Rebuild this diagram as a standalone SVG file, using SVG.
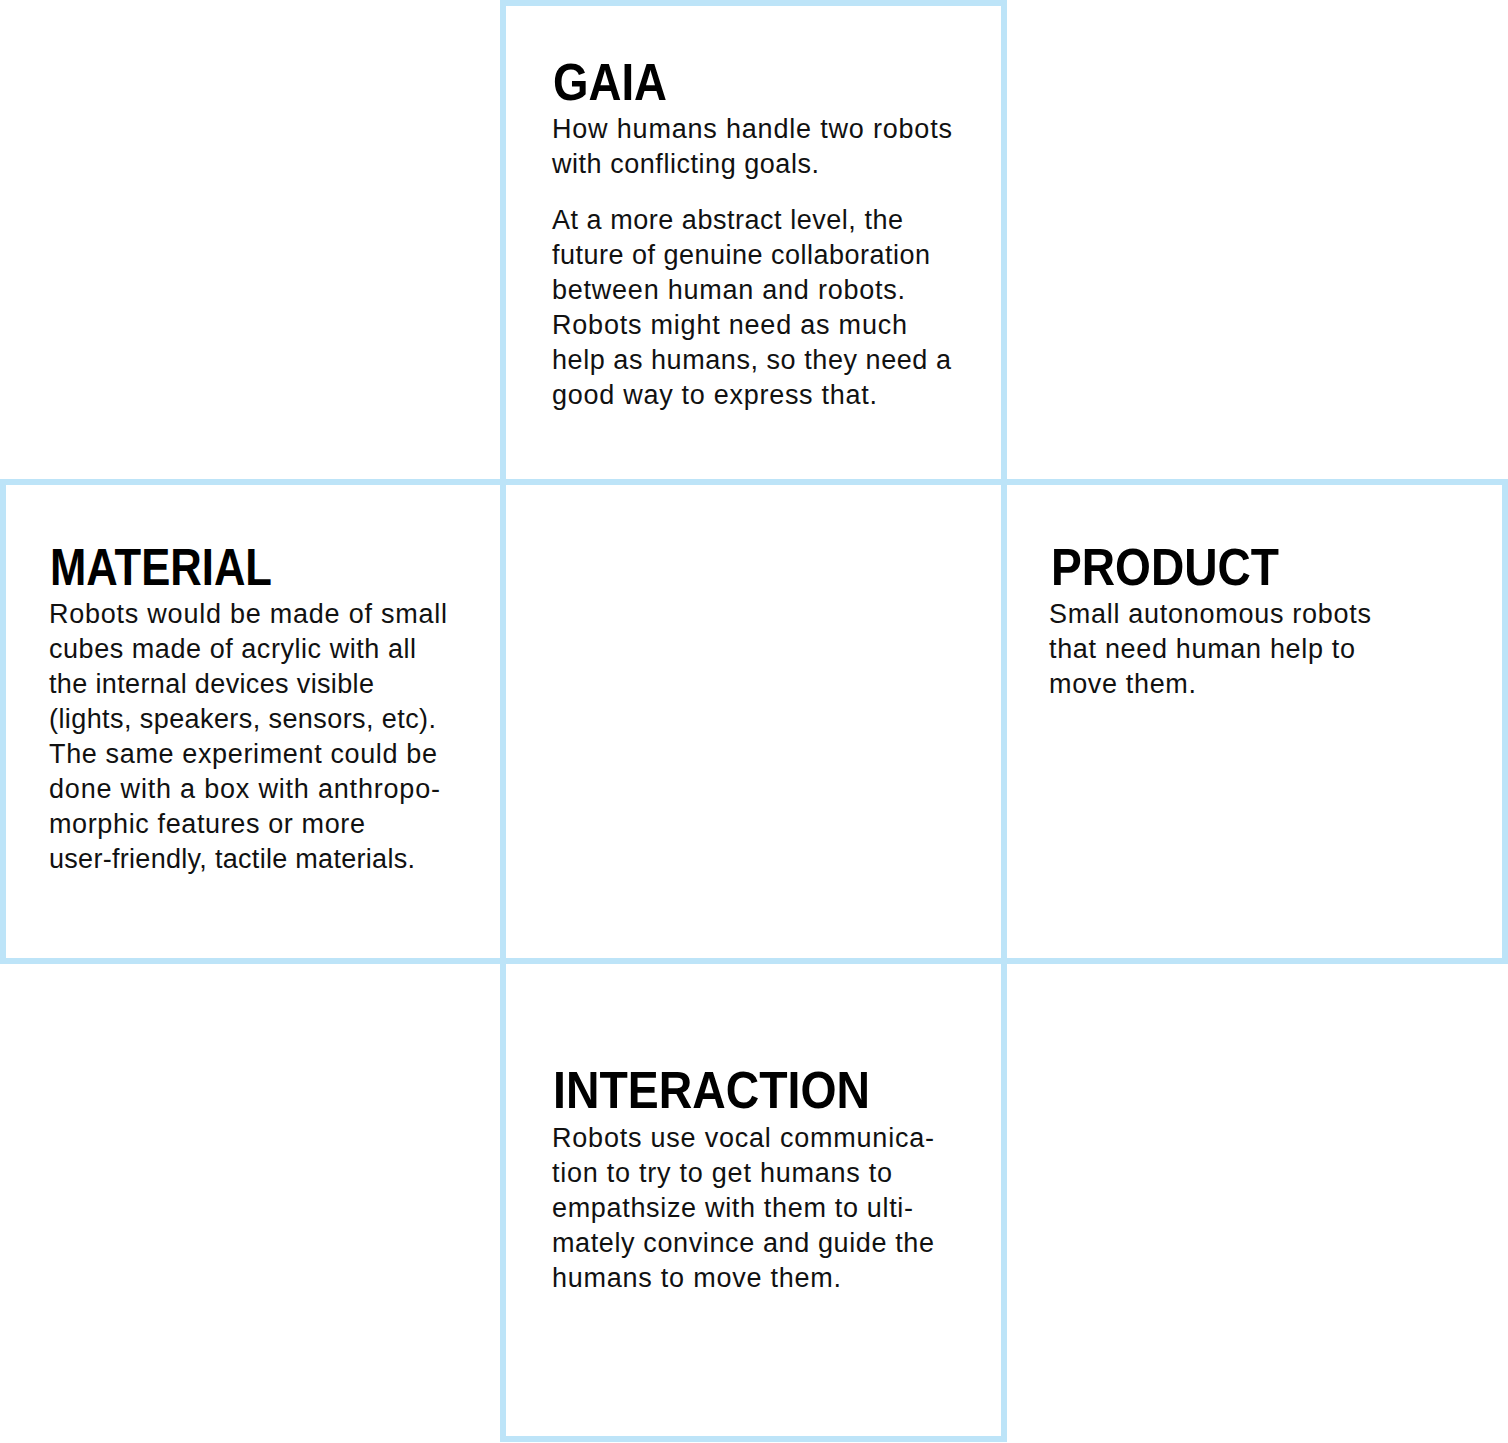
<svg xmlns="http://www.w3.org/2000/svg" width="1508" height="1443" viewBox="0 0 1508 1443">
  <style>
    .cell { fill: #ffffff; stroke: #bde4f8; stroke-width: 6; }
    .title { font-family: "Liberation Sans", Arial, sans-serif; font-weight: 700; font-size: 51px; fill: #000; }
    .body { font-family: "Liberation Sans", Arial, sans-serif; font-size: 27px; fill: #111; }
  </style>
  <rect width="1508" height="1443" fill="#ffffff"/>

  <!-- centre cell of the cross -->
  <g id="center">
    <rect class="cell" x="503" y="482" width="501" height="479"/>
  </g>

  <g id="gaia">
    <rect class="cell" x="503" y="3" width="501" height="479"/>
    <text class="title" x="553" y="100" textLength="114" lengthAdjust="spacingAndGlyphs">GAIA</text>
    <text class="body">
      <tspan x="552" y="138" textLength="400" lengthAdjust="spacing">How humans handle two robots</tspan>
      <tspan x="552" y="173" textLength="267" lengthAdjust="spacing">with conflicting goals.</tspan>
      <tspan x="552" y="229" textLength="351" lengthAdjust="spacing">At a more abstract level, the</tspan>
      <tspan x="552" y="264" textLength="378" lengthAdjust="spacing">future of genuine collaboration</tspan>
      <tspan x="552" y="299" textLength="353" lengthAdjust="spacing">between human and robots.</tspan>
      <tspan x="552" y="334" textLength="355" lengthAdjust="spacing">Robots might need as much</tspan>
      <tspan x="552" y="369" textLength="399" lengthAdjust="spacing">help as humans, so they need a</tspan>
      <tspan x="552" y="404" textLength="325" lengthAdjust="spacing">good way to express that.</tspan>
    </text>
  </g>

  <g id="material">
    <rect class="cell" x="3" y="482" width="500" height="479"/>
    <text class="title" x="50" y="585" textLength="222" lengthAdjust="spacingAndGlyphs">MATERIAL</text>
    <text class="body">
      <tspan x="49" y="623" textLength="398" lengthAdjust="spacing">Robots would be made of small</tspan>
      <tspan x="49" y="658" textLength="367" lengthAdjust="spacing">cubes made of acrylic with all</tspan>
      <tspan x="49" y="693" textLength="325" lengthAdjust="spacing">the internal devices visible</tspan>
      <tspan x="49" y="728" textLength="387" lengthAdjust="spacing">(lights, speakers, sensors, etc).</tspan>
      <tspan x="49" y="763" textLength="388" lengthAdjust="spacing">The same experiment could be</tspan>
      <tspan x="49" y="798" textLength="391" lengthAdjust="spacing">done with a box with anthropo-</tspan>
      <tspan x="49" y="833" textLength="316" lengthAdjust="spacing">morphic features or more</tspan>
      <tspan x="49" y="868" textLength="366" lengthAdjust="spacing">user-friendly, tactile materials.</tspan>
    </text>
  </g>

  <g id="product">
    <rect class="cell" x="1004" y="482" width="501" height="479"/>
    <text class="title" x="1051" y="585" textLength="228" lengthAdjust="spacingAndGlyphs">PRODUCT</text>
    <text class="body">
      <tspan x="1049" y="623" textLength="322" lengthAdjust="spacing">Small autonomous robots</tspan>
      <tspan x="1049" y="658" textLength="306" lengthAdjust="spacing">that need human help to</tspan>
      <tspan x="1049" y="693" textLength="147" lengthAdjust="spacing">move them.</tspan>
    </text>
  </g>

  <g id="interaction">
    <rect class="cell" x="503" y="961" width="501" height="478"/>
    <text class="title" x="553" y="1108" textLength="317" lengthAdjust="spacingAndGlyphs">INTERACTION</text>
    <text class="body">
      <tspan x="552" y="1147" textLength="382" lengthAdjust="spacing">Robots use vocal communica-</tspan>
      <tspan x="552" y="1182" textLength="340" lengthAdjust="spacing">tion to try to get humans to</tspan>
      <tspan x="552" y="1217" textLength="361" lengthAdjust="spacing">empathsize with them to ulti-</tspan>
      <tspan x="552" y="1252" textLength="382" lengthAdjust="spacing">mately convince and guide the</tspan>
      <tspan x="552" y="1287" textLength="289" lengthAdjust="spacing">humans to move them.</tspan>
    </text>
  </g>

  <!-- no connectors: the cells share their edges -->
  <g id="connectors"/>
</svg>
